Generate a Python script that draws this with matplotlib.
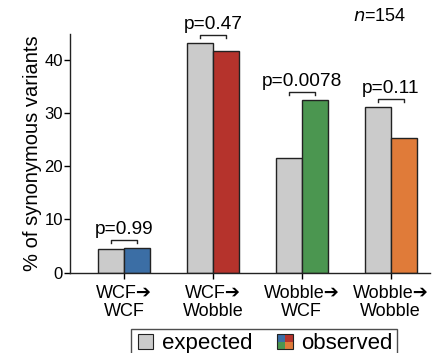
import numpy as np
import matplotlib.pyplot as plt
from matplotlib.patches import Rectangle
from matplotlib.legend_handler import HandlerBase

plt.rcParams['font.family'] = ['Liberation Sans', 'DejaVu Sans']

# Data
categories = ['WCF\u2794\nWCF', 'WCF\u2794\nWobble', 'Wobble\u2794\nWCF', 'Wobble\u2794\nWobble']
expected = [4.5, 43.1, 21.5, 31.1]
observed = [4.6, 41.6, 32.4, 25.3]
pvalues = ['p=0.99', 'p=0.47', 'p=0.0078', 'p=0.11']
obs_colors = ['#3b6ea5', '#b5332c', '#4b9650', '#e07b39']
exp_color = '#cbcbcb'


class QuadHandler(HandlerBase):
    def create_artists(self, legend, orig_handle, xdescent, ydescent,
                       width, height, fontsize, trans):
        s = height
        x0 = -xdescent + (width - s) / 2
        y0 = -ydescent
        h = s / 2
        cols = [obs_colors[2], obs_colors[3], obs_colors[0], obs_colors[1]]
        pos = [(x0, y0), (x0 + h, y0), (x0, y0 + h), (x0 + h, y0 + h)]
        arts = []
        for (px, py), c in zip(pos, cols):
            arts.append(Rectangle((px, py), h, h, facecolor=c, edgecolor='none',
                                  transform=trans))
        arts.append(Rectangle((x0, y0), s, s, facecolor='none', edgecolor='#222222',
                              linewidth=0.8, transform=trans))
        return arts


class SquareHandler(HandlerBase):
    def create_artists(self, legend, orig_handle, xdescent, ydescent,
                       width, height, fontsize, trans):
        s = height
        x0 = -xdescent + (width - s) / 2
        return [Rectangle((x0, -ydescent), s, s, facecolor=exp_color,
                          edgecolor='#222222', linewidth=0.8, transform=trans)]


fig = plt.figure(figsize=(4.33, 3.53), dpi=100)
ax = fig.add_axes([0.1617, 0.228, 0.831, 0.675])

x = np.arange(len(categories))
w = 0.29
ax.bar(x - w / 2, expected, w, color=exp_color, edgecolor='#222222', linewidth=1.0)
ax.bar(x + w / 2, observed, w, color=obs_colors, edgecolor='#222222', linewidth=1.0)

# significance brackets
for i in range(len(categories)):
    top = max(expected[i], observed[i]) + 1.5
    ax.plot([x[i] - w / 2, x[i] - w / 2, x[i] + w / 2, x[i] + w / 2],
            [top - 0.6, top, top, top - 0.6], color='#222222', lw=1.0, clip_on=False)
    ax.text(x[i], top + 0.35, pvalues[i], ha='center', va='bottom', fontsize=13.8)

ax.set_xlim(-0.607, 3.44)
ax.set_ylim(0, 44.8)
ax.set_yticks([0, 10, 20, 30, 40])
ax.set_xticks(x)
ax.set_xticklabels(categories, fontsize=13, linespacing=1.1)
ax.tick_params(axis='y', labelsize=12, length=4, width=1, pad=1)
ax.tick_params(axis='x', length=4, width=1, pad=5)
for s in ['top', 'right']:
    ax.spines[s].set_visible(False)
for s in ['left', 'bottom']:
    ax.spines[s].set_linewidth(1.0)
    ax.spines[s].set_color('#222222')
ax.set_ylabel('% of synonymous variants', fontsize=14.5, labelpad=2)

ax.text(0.935, 1.04, r'$\it{n}$=154', transform=ax.transAxes, ha='right', va='bottom',
        fontsize=13)

h1 = Rectangle((0, 0), 1, 1)
h2 = Rectangle((0, 0), 1, 1)
leg = fig.legend([h1, h2], ['expected', 'observed'],
                 handler_map={h1: SquareHandler(), h2: QuadHandler()},
                 loc='upper center', bbox_to_anchor=(0.61, 0.068), ncol=2,
                 fontsize=16, frameon=True, fancybox=False, edgecolor='#222222',
                 handlelength=0.9, handletextpad=0.3, columnspacing=1.0,
                 borderpad=0.2, borderaxespad=0)
leg.get_frame().set_linewidth(1.0)

fig.savefig('out.png', dpi=100)
